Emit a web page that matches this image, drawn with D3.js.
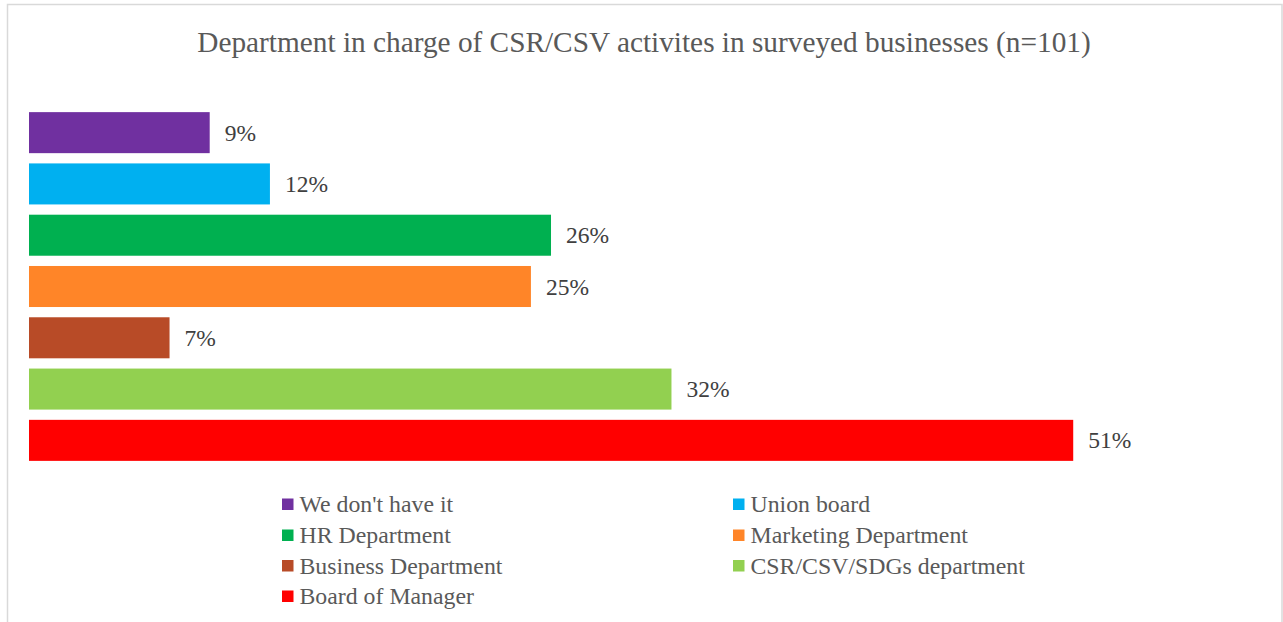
<!DOCTYPE html>
<html>
<head>
<meta charset="utf-8">
<script src="https://cdn.jsdelivr.net/npm/d3@7"></script>
<style>
  html, body { margin: 0; padding: 0; background: #ffffff; }
  svg { display: block; }
</style>
</head>
<body>
<script>
// Share of surveyed businesses (n=101) by department in charge of CSR/CSV
const categories = [
  "We don't have it",
  "Union board",
  "HR Department",
  "Marketing Department",
  "Business Department",
  "CSR/CSV/SDGs department",
  "Board of Manager"
];
const values = [8.91, 11.88, 25.74, 24.75, 6.93, 31.68, 51.49];
const colors = ["#7030A0", "#00B0F0", "#00B050", "#FF8528", "#B84B27", "#92D050", "#FF0000"];
const titleText = "Department in charge of CSR/CSV activites in surveyed businesses (n=101)";

const W = 1283, H = 622;
const serif = "'Liberation Serif', 'Times New Roman', serif";

const svg = d3.select("body").append("svg")
  .attr("width", W)
  .attr("height", H);

svg.append("rect").attr("width", W).attr("height", H).attr("fill", "#ffffff");

// chart frame (bottom edge runs past the visible area)
svg.append("rect")
  .attr("x", 7.5).attr("y", 4.5)
  .attr("width", 1274.5).attr("height", 640)
  .attr("fill", "none")
  .attr("stroke", "#d9d9d9")
  .attr("stroke-width", 1.5);

svg.append("text")
  .attr("x", 644)
  .attr("y", 52)
  .attr("text-anchor", "middle")
  .attr("font-family", serif)
  .attr("font-size", 29.3)
  .attr("fill", "#595959")
  .text(titleText);

const x = d3.scaleLinear().domain([0, 60]).range([29, 29 + 60 * 20.28]);
const y = d3.scaleBand()
  .domain(categories)
  .range([107, 466])
  .paddingInner(0.2)
  .paddingOuter(0.1);

const rows = categories.map((c, i) => ({ c, v: values[i], col: colors[i] }));

svg.append("g").selectAll("rect")
  .data(rows)
  .join("rect")
  .attr("x", x(0))
  .attr("y", d => y(d.c))
  .attr("width", d => x(d.v) - x(0))
  .attr("height", y.bandwidth())
  .attr("fill", d => d.col);

const fmt = d3.format(".0%");
svg.append("g").selectAll("text")
  .data(rows)
  .join("text")
  .attr("x", d => x(d.v) + 15)
  .attr("y", d => y(d.c) + y.bandwidth() / 2 + 8)
  .attr("font-family", serif)
  .attr("font-size", 23.5)
  .attr("fill", "#404040")
  .text(d => fmt(d.v / 100));

// legend: two columns, filled row by row
const legend = svg.append("g");
const colX = [282, 733];
const rowY = [504, 535, 565.5, 596];
const items = legend.selectAll("g")
  .data(rows)
  .join("g")
  .attr("transform", (d, i) => `translate(${colX[i % 2]},${rowY[Math.floor(i / 2)]})`);
items.append("rect")
  .attr("x", 0).attr("y", -5.5)
  .attr("width", 11.5).attr("height", 11.5)
  .attr("fill", d => d.col);
items.append("text")
  .attr("x", 17.5)
  .attr("y", 8)
  .attr("font-family", serif)
  .attr("font-size", 23.8)
  .attr("fill", "#595959")
  .text(d => d.c);
</script>
</body>
</html>
